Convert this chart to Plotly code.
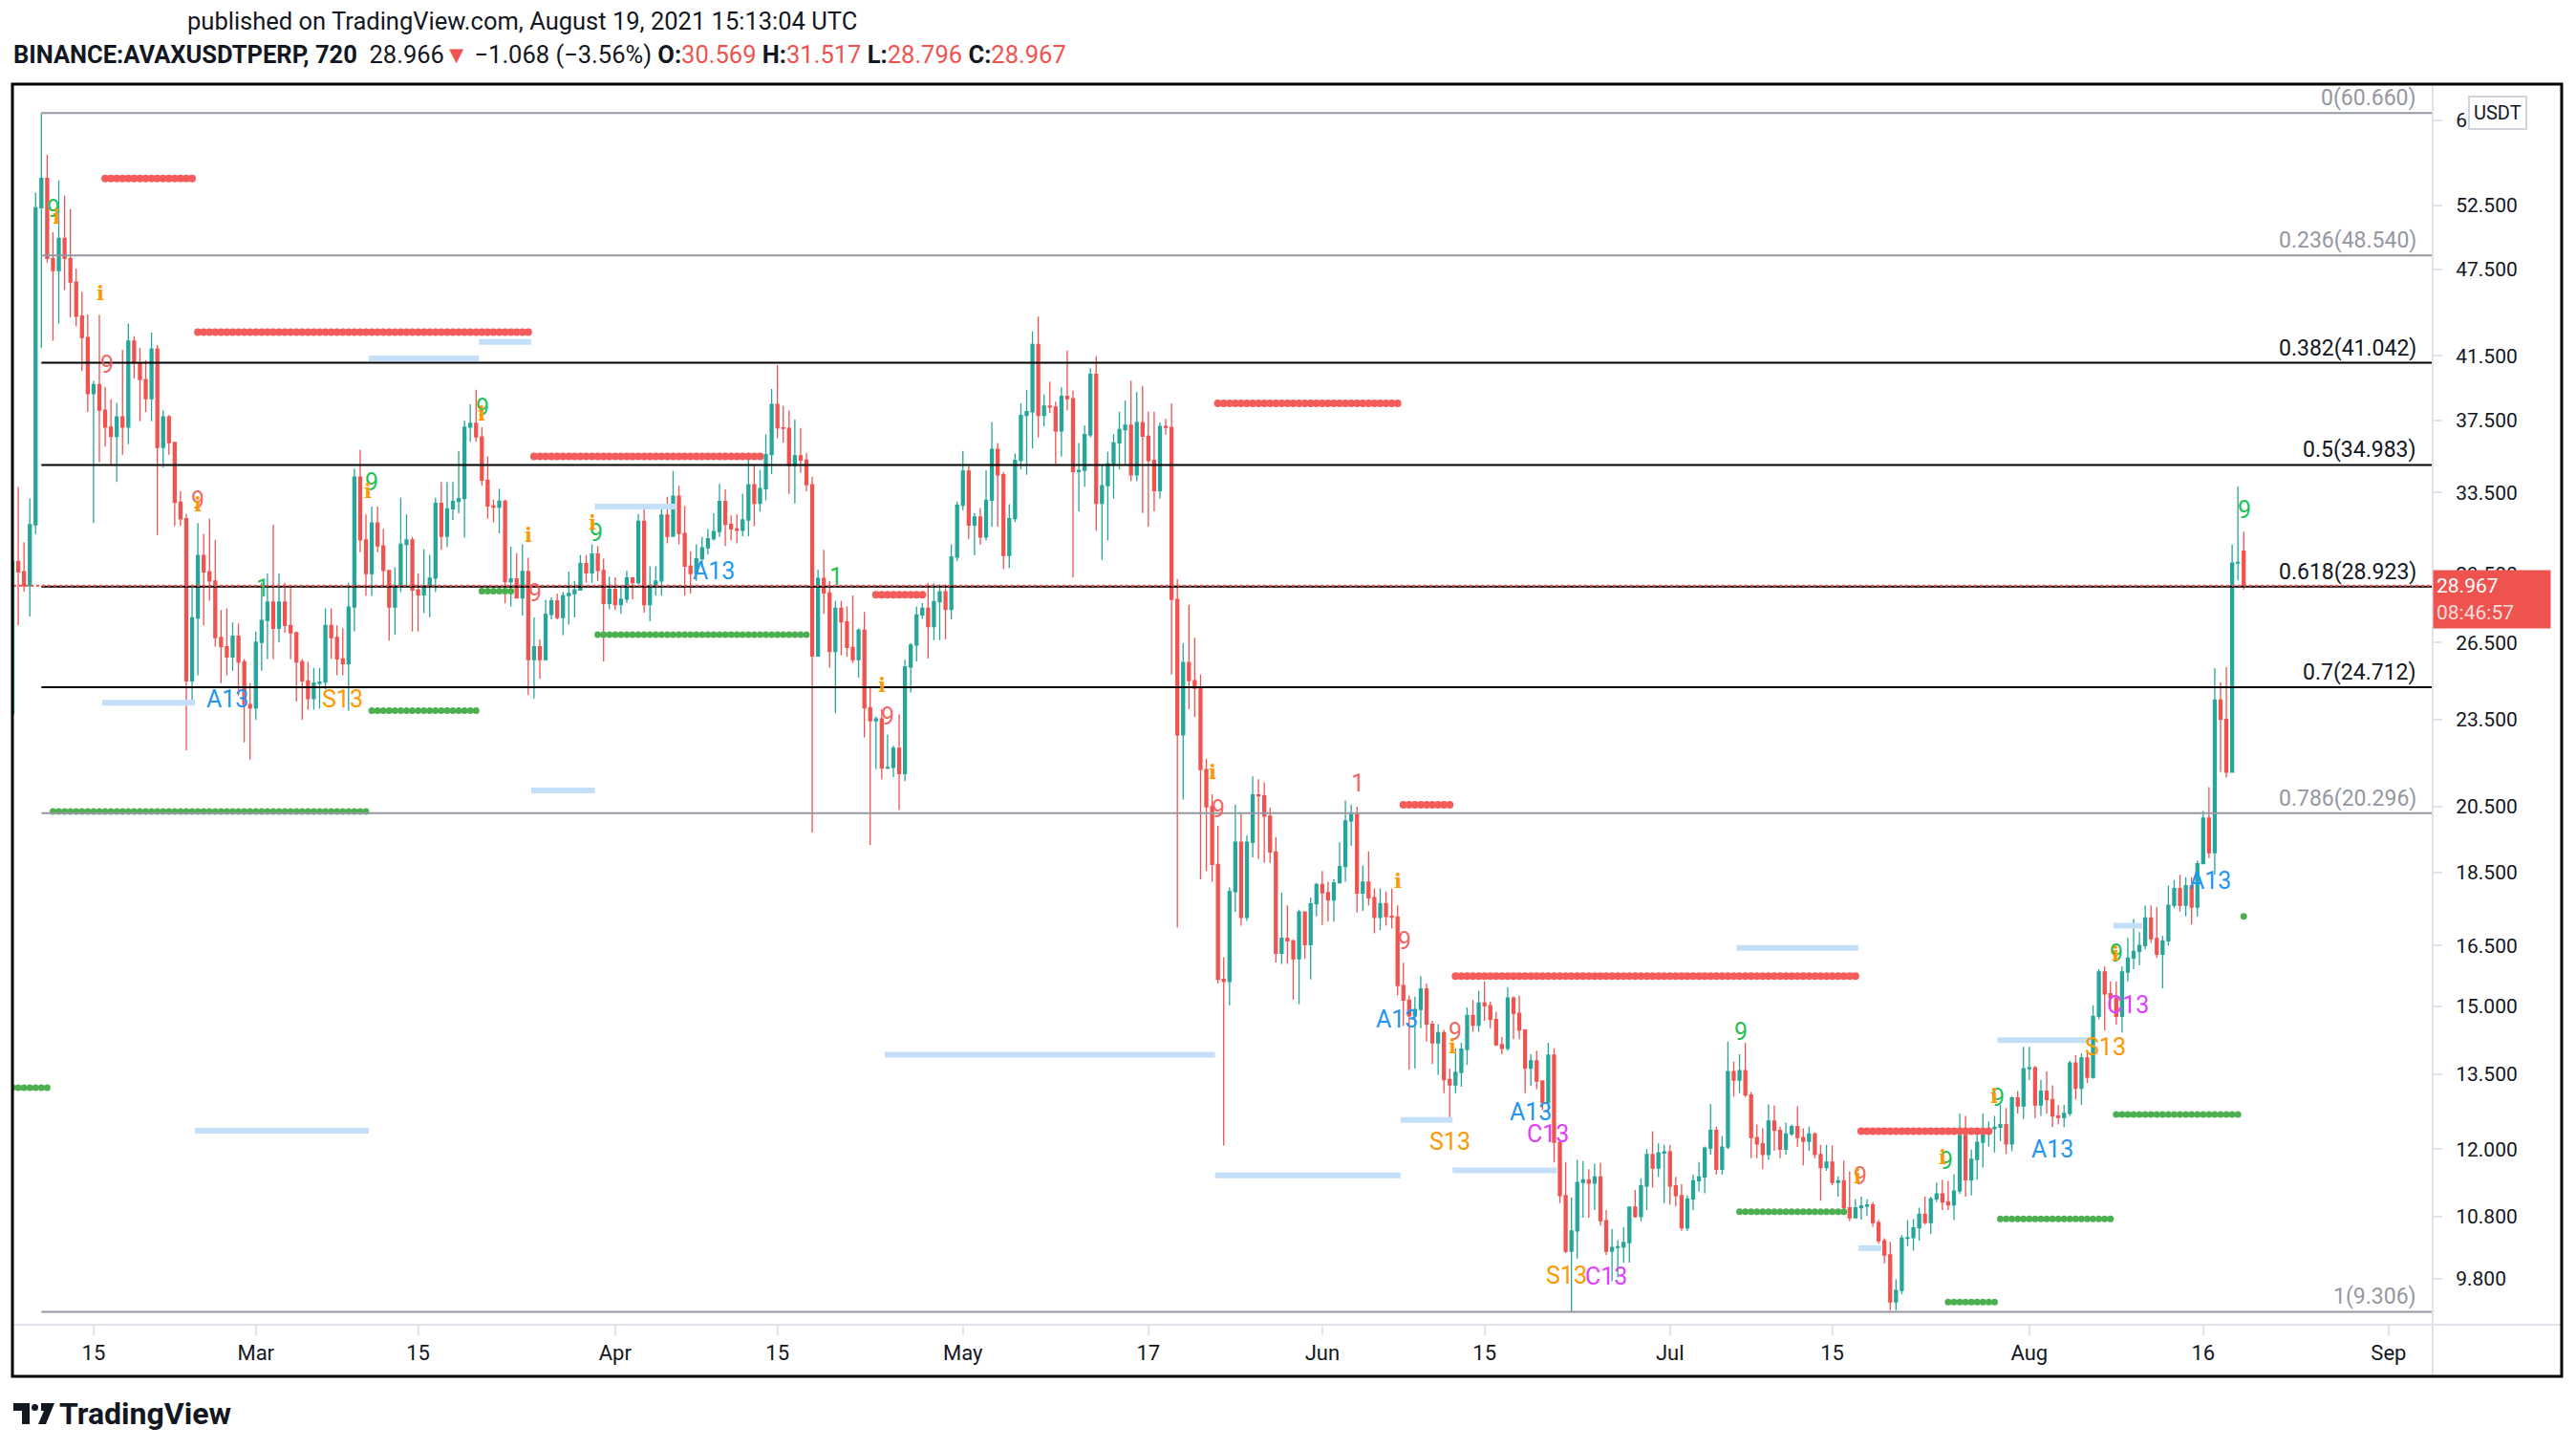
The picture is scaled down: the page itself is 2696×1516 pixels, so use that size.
import math
import pandas as pd
import plotly.graph_objects as go

# ---------------- DATA ----------------
SYMBOL_TEXT = "BINANCE:AVAXUSDTPERP, 720"
PUBLISHED = "published on TradingView.com, August 19, 2021 15:13:04 UTC"
START = "2021-02-08 00:00"          # first 12h candle
FIRST_OPEN = 23.71
LAST_OPEN = 30.569
LAST_PRICE = 28.967
COUNTDOWN = "08:46:57"

closes = [
    30.08, 29.6, 28.96, 31.86, 52.30, 54.75, 48.32, 47.41, 49.86, 48.32,
    46.56, 44.15, 42.70, 39.11, 39.67, 38.11, 37.11, 36.58, 37.71, 37.11,
    42.46, 41.02, 39.98, 38.81, 41.94, 35.96, 37.71, 36.23, 33.00, 32.16,
    24.96, 27.54, 30.37, 29.60, 29.18, 26.71, 26.33, 25.91, 26.76, 25.71,
    24.05, 23.93, 26.51, 27.43, 28.23, 27.10, 28.23, 27.22, 26.91, 25.71,
    24.96, 24.28, 24.87, 24.91, 27.22, 26.71, 25.83, 25.64, 28.01, 34.32,
    31.11, 29.52, 31.95, 30.82, 29.66, 28.01, 28.96, 30.90, 31.11, 28.77,
    28.55, 28.96, 29.31, 32.94, 31.29, 32.66, 33.04, 33.19, 37.11, 37.33,
    36.55, 34.16, 32.81, 32.75, 33.06, 29.15, 29.27, 28.41, 29.61, 25.80,
    26.33, 25.80, 27.69, 28.28, 27.56, 28.52, 28.61, 28.77, 29.98, 29.55,
    30.43, 29.66, 28.17, 28.80, 28.12, 28.36, 29.32, 29.10, 32.03, 28.12,
    28.98, 29.18, 32.34, 31.29, 33.32, 31.43, 29.86, 29.52, 30.21, 30.73,
    31.17, 31.52, 33.04, 31.88, 31.65, 31.58, 32.10, 33.92, 32.94, 33.71,
    35.55, 38.46, 37.07, 37.05, 34.95, 35.49, 35.25, 33.92, 25.95, 29.30,
    28.64, 26.13, 27.96, 27.37, 26.30, 25.80, 27.01, 23.93, 23.45, 23.52,
    21.78, 21.80, 22.46, 21.59, 25.51, 26.40, 27.67, 27.96, 27.17, 28.25,
    28.69, 27.91, 30.29, 32.85, 34.65, 31.84, 32.25, 31.25, 33.10, 35.84,
    34.45, 30.37, 32.17, 35.23, 37.80, 38.02, 42.23, 37.80, 38.35, 38.30,
    36.90, 38.94, 38.80, 34.63, 34.69, 36.68, 40.31, 32.95, 33.87, 35.05,
    36.21, 36.97, 37.22, 34.45, 37.38, 36.59, 35.23, 33.61, 37.16, 37.10,
    28.35, 22.94, 25.69, 24.97, 24.67, 21.73, 20.50, 18.73, 15.65, 15.60,
    17.95, 19.39, 17.24, 19.39, 20.88, 20.85, 20.20, 19.10, 16.30, 16.69,
    16.62, 16.16, 17.39, 16.52, 17.61, 18.15, 17.92, 17.72, 18.20, 18.67,
    20.05, 20.26, 17.91, 18.22, 17.78, 17.24, 17.62, 17.27, 17.25, 15.50,
    15.15, 14.78, 14.93, 15.42, 14.59, 14.17, 14.40, 13.38, 13.27, 13.53,
    14.03, 14.79, 14.57, 15.08, 15.02, 14.70, 14.13, 14.05, 15.20, 14.84,
    14.46, 13.62, 13.78, 13.35, 12.91, 13.90, 12.13, 11.16, 10.23, 10.56,
    11.39, 11.44, 11.38, 11.49, 10.73, 10.23, 10.29, 10.30, 10.37, 10.96,
    10.80, 11.33, 11.90, 11.65, 11.93, 11.95, 11.33, 11.16, 10.61, 11.10,
    11.42, 11.49, 12.02, 12.36, 11.63, 12.04, 13.55, 13.37, 13.57, 13.06,
    12.22, 12.10, 11.90, 12.54, 12.36, 12.00, 12.29, 12.43, 12.22, 12.15,
    12.29, 11.90, 11.66, 11.76, 11.39, 11.42, 10.95, 10.78, 10.95, 10.98,
    11.00, 10.70, 10.40, 10.17, 9.45, 9.62, 10.44, 10.45, 10.61, 10.84,
    10.70, 11.10, 11.19, 11.05, 11.00, 11.24, 12.26, 11.44, 11.81, 12.13,
    12.37, 12.39, 12.42, 12.47, 12.10, 13.00, 12.84, 13.61, 13.63, 12.86,
    13.14, 12.97, 12.64, 12.61, 12.69, 13.73, 13.20, 13.84, 13.43, 14.77,
    15.83, 15.30, 15.20, 14.77, 15.83, 16.18, 16.35, 16.50, 17.23, 16.68,
    16.28, 16.62, 17.57, 18.04, 17.57, 18.12, 17.52, 18.75, 20.14, 19.08,
    24.22, 23.50, 21.64, 30.01, 30.034, 28.967,
]

highs = [
    31.56, 33.8, 31.0, 33.2, 53.56, 60.66, 56.83, 50.34, 54.59, 53.30,
    52.20, 47.55, 45.86, 44.27, 39.9, 44.23, 39.52, 38.77, 38.55, 41.89,
    43.64, 42.78, 42.01, 41.22, 43.02, 42.2, 38.11, 37.82, 36.23, 33.58,
    32.4, 28.88, 31.95, 31.41, 32.16, 31.11, 27.88, 27.96, 27.35, 27.30,
    25.83, 24.87, 26.96, 29.10, 29.52, 31.86, 29.52, 29.10, 28.96, 26.96,
    25.83, 25.71, 25.46, 25.46, 27.96, 27.96, 27.22, 27.10, 29.10, 34.78,
    35.82, 32.38, 32.78, 32.78, 31.65, 29.66, 29.81, 33.23, 32.38, 31.26,
    29.52, 30.67, 30.40, 33.23, 34.06, 34.06, 34.06, 35.76, 37.50, 38.46,
    39.35, 37.11, 35.45, 33.14, 33.71, 33.14, 30.78, 30.47, 30.90, 30.26,
    27.56, 26.63, 28.33, 28.44, 28.61, 28.69, 29.61, 29.18, 30.38, 30.38,
    30.90, 30.82, 30.21, 29.38, 29.35, 28.98, 29.66, 29.35, 32.40, 32.72,
    29.86, 29.86, 32.77, 33.29, 34.65, 33.86, 32.81, 30.55, 30.90, 31.26,
    31.65, 32.44, 33.96, 33.67, 32.34, 32.38, 33.44, 35.66, 34.95, 34.71,
    36.69, 39.40, 40.90, 38.37, 38.09, 37.55, 37.07, 35.66, 34.35, 29.70,
    30.64, 29.18, 28.28, 28.28, 28.04, 28.52, 27.10, 27.80, 24.72, 23.60,
    23.89, 22.95, 22.56, 23.69, 25.80, 26.48, 28.04, 28.20, 29.10, 29.07,
    29.02, 29.02, 30.90, 33.04, 35.76, 34.90, 32.45, 32.70, 34.69, 37.41,
    36.21, 34.60, 32.90, 35.60, 38.52, 39.33, 43.10, 44.11, 39.06, 39.85,
    38.62, 39.49, 41.83, 39.29, 36.21, 37.22, 40.70, 41.47, 35.00, 35.72,
    36.71, 38.02, 38.69, 39.90, 39.20, 39.59, 38.02, 38.02, 37.38, 37.60,
    38.52, 29.27, 26.48, 28.11, 26.70, 25.21, 22.10, 20.90, 19.90, 16.20,
    18.07, 20.57, 20.29, 19.60, 21.50, 21.40, 21.30, 20.47, 19.55, 17.92,
    17.57, 16.66, 17.45, 17.39, 17.79, 18.20, 18.54, 18.23, 18.30, 19.39,
    20.70, 20.57, 20.50, 18.70, 19.12, 18.04, 18.04, 17.95, 18.04, 17.57,
    16.06, 15.26, 15.23, 15.73, 15.55, 14.67, 14.59, 14.46, 13.61, 14.05,
    14.17, 14.98, 15.15, 15.37, 15.60, 15.12, 14.88, 14.30, 15.46, 15.24,
    15.26, 14.46, 13.92, 14.00, 13.35, 14.17, 14.05, 12.18, 11.76, 11.13,
    11.80, 11.78, 11.63, 11.73, 11.75, 10.91, 10.59, 10.41, 10.62, 10.97,
    11.26, 11.46, 12.00, 12.34, 12.11, 12.08, 12.08, 11.49, 11.36, 11.16,
    11.53, 11.76, 12.05, 12.88, 12.43, 12.25, 14.20, 13.76, 13.92, 14.17,
    13.12, 12.47, 12.40, 12.87, 12.85, 12.43, 12.51, 12.47, 12.83, 12.40,
    12.43, 12.32, 12.08, 12.08, 12.07, 11.50, 11.79, 11.59, 11.10, 11.14,
    11.10, 11.05, 10.74, 10.44, 10.38, 9.79, 10.49, 10.74, 10.76, 10.95,
    11.14, 11.14, 11.39, 11.44, 11.42, 11.54, 12.69, 12.64, 11.99, 12.37,
    12.69, 12.53, 12.64, 12.86, 12.80, 13.03, 13.14, 14.08, 14.08, 13.67,
    13.37, 13.55, 13.26, 12.86, 12.86, 13.78, 13.90, 13.94, 14.00, 15.03,
    15.90, 15.97, 15.60, 15.60, 15.97, 16.70, 17.20, 16.85, 17.57, 17.57,
    17.52, 16.75, 18.12, 18.27, 18.43, 18.36, 18.36, 18.84, 20.36, 21.14,
    25.45, 24.91, 25.50, 30.89, 33.83, 31.517,
]

lows = [
    23.48, 27.22, 28.7, 27.6, 31.4, 42.0, 48.0, 42.49, 43.64, 45.98,
    44.06, 43.44, 40.52, 38.0, 31.95, 35.14, 36.0, 34.94, 34.06, 35.55,
    36.13, 40.05, 37.46, 38.0, 37.46, 31.35, 34.84, 35.55, 31.80, 31.80,
    22.39, 24.16, 25.18, 27.22, 28.28, 26.33, 24.87, 25.18, 25.35, 24.39,
    22.67, 22.07, 23.48, 25.35, 25.83, 25.83, 26.51, 26.91, 25.83, 24.16,
    23.48, 23.86, 23.86, 23.9, 24.63, 25.83, 25.18, 25.18, 23.82, 26.96,
    30.52, 28.50, 28.50, 30.52, 28.91, 26.58, 26.83, 28.69, 28.96, 26.96,
    26.96, 27.75, 27.56, 28.69, 30.64, 30.76, 32.10, 32.44, 31.22, 36.27,
    36.27, 33.86, 32.16, 31.98, 31.43, 28.17, 28.04, 28.39, 27.64, 24.41,
    24.27, 25.04, 25.77, 27.48, 27.48, 26.81, 27.25, 27.56, 28.77, 29.10,
    29.10, 29.18, 25.73, 27.91, 27.88, 27.72, 28.20, 28.36, 29.02, 27.77,
    27.40, 28.52, 28.52, 30.94, 31.26, 30.90, 28.52, 28.61, 29.18, 29.86,
    30.41, 31.08, 31.26, 30.82, 31.08, 30.94, 31.29, 31.29, 31.79, 32.53,
    33.10, 34.49, 36.48, 36.23, 33.44, 32.94, 34.55, 33.57, 19.69, 25.91,
    27.72, 25.48, 23.73, 25.98, 25.91, 25.66, 25.08, 22.85, 19.31, 21.74,
    21.39, 21.74, 21.47, 20.39, 21.34, 24.51, 25.73, 27.50, 25.85, 26.60,
    26.60, 26.63, 27.48, 30.10, 32.60, 31.17, 30.37, 30.89, 31.08, 31.76,
    31.76, 29.73, 29.78, 32.00, 34.75, 34.45, 35.90, 36.53, 37.16, 37.95,
    35.05, 35.44, 38.10, 29.35, 32.53, 33.81, 36.53, 31.57, 30.16, 31.08,
    33.18, 34.75, 35.00, 34.10, 34.10, 32.45, 31.76, 32.53, 33.18, 36.68,
    25.21, 16.97, 20.73, 23.88, 23.58, 18.30, 18.54, 18.23, 15.55, 12.07,
    15.03, 17.39, 17.02, 17.15, 18.94, 18.90, 18.78, 18.78, 16.07, 16.03,
    16.03, 15.16, 15.05, 16.16, 15.65, 17.27, 17.04, 17.13, 17.13, 18.38,
    18.23, 19.28, 17.37, 17.42, 17.57, 16.82, 16.90, 17.02, 16.95, 15.26,
    14.55, 13.59, 13.61, 14.50, 14.20, 13.71, 13.48, 13.10, 12.61, 13.10,
    13.23, 13.69, 14.42, 14.42, 14.67, 14.50, 14.10, 13.92, 14.00, 14.25,
    14.25, 13.10, 13.25, 13.18, 12.76, 12.72, 11.76, 11.03, 10.20, 9.306,
    10.11, 10.78, 10.78, 10.91, 10.65, 10.17, 9.76, 9.82, 10.05, 10.05,
    10.78, 10.72, 10.91, 11.30, 11.49, 11.03, 11.00, 10.97, 10.56, 10.56,
    10.91, 11.23, 11.20, 11.90, 11.53, 11.53, 12.00, 13.03, 13.10, 13.02,
    11.83, 11.83, 11.63, 11.80, 11.97, 11.83, 11.90, 12.25, 12.04, 11.70,
    11.97, 11.83, 11.07, 11.60, 11.34, 11.14, 10.91, 10.72, 10.78, 10.75,
    10.81, 10.63, 10.35, 10.04, 9.33, 9.33, 9.57, 10.31, 10.24, 10.40,
    10.67, 10.51, 11.05, 10.91, 10.91, 10.74, 11.19, 11.14, 11.16, 11.44,
    11.66, 12.05, 11.94, 12.15, 11.91, 11.96, 12.69, 12.58, 13.37, 12.60,
    12.64, 12.69, 12.42, 12.47, 12.42, 12.64, 12.97, 12.86, 13.31, 13.40,
    14.70, 14.45, 14.90, 14.58, 14.40, 15.60, 15.90, 16.00, 16.40, 16.57,
    16.18, 15.43, 16.50, 17.50, 17.40, 17.27, 17.05, 17.27, 18.75, 18.92,
    18.43, 21.64, 21.46, 21.64, 29.20, 28.796,
]

# Fibonacci retracement (ratio label, price)
fib_ratios = ["0", "0.236", "0.382", "0.5", "0.618", "0.7", "0.786", "1"]
fib_prices = [60.660, 48.540, 41.042, 34.983, 28.923, 24.712, 20.296, 9.306]
fib_dark = [False, False, True, True, True, True, False, False]
FIB_FROM = "2021-02-10 12:00"

# TD setup support / resistance dotted levels: (first bar, last bar, price)
red_levels = [
    ("2021-02-16 00:00", "2021-02-23 12:00", 54.75),
    ("2021-02-24 00:00", "2021-03-24 12:00", 43.06),
    ("2021-03-25 00:00", "2021-04-13 12:00", 35.45),
    ("2021-04-23 12:00", "2021-04-27 12:00", 28.56),
    ("2021-05-23 00:00", "2021-06-07 12:00", 38.52),
    ("2021-06-08 00:00", "2021-06-12 00:00", 20.56),
    ("2021-06-12 12:00", "2021-07-17 00:00", 15.73),
    ("2021-07-17 12:00", "2021-07-28 12:00", 12.34),
]
green_levels = [
    ("2021-02-08 00:00", "2021-02-11 00:00", 13.21),
    ("2021-02-11 12:00", "2021-03-10 12:00", 20.35),
    ("2021-03-11 00:00", "2021-03-20 00:00", 23.82),
    ("2021-03-20 12:00", "2021-03-23 00:00", 28.72),
    ("2021-03-30 12:00", "2021-04-17 12:00", 26.83),
    ("2021-07-07 00:00", "2021-07-16 00:00", 10.88),
    ("2021-07-25 00:00", "2021-07-29 00:00", 9.45),
    ("2021-07-29 12:00", "2021-08-08 00:00", 10.76),
    ("2021-08-08 12:00", "2021-08-19 00:00", 12.67),
    ("2021-08-19 12:00", "2021-08-19 12:00", 17.27),
]
# light blue risk lines: (from, to, price)
blue_levels = [
    ("2021-02-15 18:00", "2021-02-23 18:00", 24.12),
    ("2021-02-23 18:00", "2021-03-10 18:00", 12.35),
    ("2021-03-10 18:00", "2021-03-20 06:00", 41.33),
    ("2021-03-20 06:00", "2021-03-24 18:00", 42.40),
    ("2021-03-24 18:00", "2021-03-30 06:00", 21.03),
    ("2021-03-30 06:00", "2021-04-06 06:00", 32.78),
    ("2021-04-24 06:00", "2021-05-22 18:00", 13.91),
    ("2021-05-22 18:00", "2021-06-07 18:00", 11.52),
    ("2021-06-07 18:00", "2021-06-12 06:00", 12.56),
    ("2021-06-12 06:00", "2021-06-21 06:00", 11.61),
    ("2021-07-06 18:00", "2021-07-17 06:00", 16.44),
    ("2021-07-17 06:00", "2021-07-19 06:00", 10.28),
    ("2021-07-29 06:00", "2021-08-06 06:00", 14.23),
    ("2021-08-08 06:00", "2021-08-10 18:00", 17.02),
]

# TD sequential labels: (text, time, price, kind)
td_labels = [
    ("9", "2021-02-11 14:00", 52.2, "g"), ("i", "2021-02-11 18:00", 51.6, "o"),
    ("i", "2021-02-15 14:00", 45.8, "o"),
    ("9", "2021-02-16 04:00", 40.9, "r"),
    ("9", "2021-02-24 00:00", 33.1, "r"), ("i", "2021-02-24 00:00", 32.9, "o"),
    ("A13", "2021-02-26 13:00", 24.27, "b"),
    ("1", "2021-03-01 14:00", 28.83, "g"),
    ("S13", "2021-03-08 12:00", 24.27, "o"),
    ("9", "2021-03-11 00:00", 34.03, "g"), ("i", "2021-03-10 16:00", 33.6, "o"),
    ("9", "2021-03-20 13:00", 38.24, "g"), ("i", "2021-03-20 12:00", 37.9, "o"),
    ("i", "2021-03-24 13:00", 31.35, "o"),
    ("9", "2021-03-25 02:00", 28.62, "r"),
    ("9", "2021-03-30 08:00", 31.44, "g"), ("i", "2021-03-30 00:00", 32.0, "o"),
    ("A13", "2021-04-09 13:00", 29.62, "b"),
    ("1", "2021-04-20 01:00", 29.36, "g"),
    ("i", "2021-04-24 00:00", 24.79, "o"),
    ("9", "2021-04-24 13:00", 23.61, "r"),
    ("i", "2021-05-22 13:00", 21.64, "o"),
    ("9", "2021-05-23 01:00", 20.41, "r"),
    ("1", "2021-06-04 01:00", 21.28, "r"),
    ("i", "2021-06-07 12:00", 18.25, "o"),
    ("9", "2021-06-08 02:00", 16.63, "r"),
    ("A13", "2021-06-07 11:00", 14.69, "b"),
    ("9", "2021-06-12 12:00", 14.41, "r"), ("i", "2021-06-12 06:00", 14.1, "o"),
    ("S13", "2021-06-12 00:00", 12.15, "o"),
    ("A13", "2021-06-19 00:00", 12.71, "b"),
    ("C13", "2021-06-20 12:00", 12.28, "p"),
    ("S13", "2021-06-22 01:00", 9.85, "o"),
    ("C13", "2021-06-25 11:00", 9.84, "p"),
    ("9", "2021-07-07 02:00", 14.42, "g"),
    ("9", "2021-07-17 10:00", 11.51, "r"), ("i", "2021-07-17 04:00", 11.51, "o"),
    ("9", "2021-07-24 20:00", 11.79, "g"), ("i", "2021-07-24 12:00", 11.85, "o"),
    ("9", "2021-07-29 08:00", 13.00, "g"), ("i", "2021-07-29 00:00", 13.05, "o"),
    ("A13", "2021-08-03 00:00", 12.0, "b"),
    ("S13", "2021-08-07 13:00", 14.07, "o"),
    ("9", "2021-08-08 13:00", 16.29, "g"), ("i", "2021-08-08 10:00", 16.29, "o"),
    ("C13", "2021-08-09 12:00", 15.03, "p"),
    ("A13", "2021-08-16 14:00", 18.25, "b"),
    ("9", "2021-08-19 14:00", 32.59, "g"),
]

price_ticks = [9.8, 10.8, 12.0, 13.5, 15.0, 16.5, 18.5, 20.5, 23.5, 26.5,
               29.5, 33.5, 37.5, 41.5, 47.5, 52.5, 60.0]
time_ticks = ["2021-02-15", "2021-03-01", "2021-03-15", "2021-04-01", "2021-04-15",
              "2021-05-01", "2021-05-17", "2021-06-01", "2021-06-15", "2021-07-01",
              "2021-07-15", "2021-08-01", "2021-08-16", "2021-09-01"]
time_labels = ["15", "Mar", "15", "Apr", "15", "May", "17", "Jun", "15", "Jul",
               "15", "Aug", "16", "Sep"]

# ---------------- LAYOUT GEOMETRY ----------------
W, H = 2696, 1516
PL, PR, PT, PB = 14, 2546, 88, 1386
X_RANGE = ["2021-02-08 01:58", "2021-09-04 19:12"]
Y_RANGE = [math.log10(9.119), math.log10(63.46)]


def px(x):
    return (x - PL) / (PR - PL)


def py(y):
    return (PB - y) / (PB - PT)


n = min(len(closes), len(highs), len(lows))
closes, highs, lows = closes[:n], highs[:n], lows[:n]
dates = pd.date_range(START, periods=n, freq="12h")
opens = [FIRST_OPEN] + closes[:-1]
opens[-1] = LAST_OPEN
highs = [max(h, o, c) for h, o, c in zip(highs, opens, closes)]
lows = [min(l, o, c) for l, o, c in zip(lows, opens, closes)]

fig = go.Figure()

# light-blue lines (behind candles)
bx, by = [], []
for a, b, p in blue_levels:
    bx += [a, b, None]
    by += [p, p, None]
fig.add_trace(go.Scatter(x=bx, y=by, mode="lines", line=dict(color="#c3dffa", width=6),
                         hoverinfo="skip", showlegend=False))

fig.add_trace(go.Candlestick(
    x=dates, open=opens, high=highs, low=lows, close=closes,
    increasing=dict(line=dict(color="#26a69a", width=1.3), fillcolor="#26a69a"),
    decreasing=dict(line=dict(color="#ef5350", width=1.3), fillcolor="#ef5350"),
    whiskerwidth=0, hoverinfo="skip", showlegend=False))


def beads(levels):
    xs, ys = [], []
    for a, b, p in levels:
        ta, tb = pd.Timestamp(a), pd.Timestamp(b)
        for d in dates:
            if ta <= d <= tb:
                xs.append(d)
                ys.append(p)
    return xs, ys


rx, ry = beads(red_levels)
fig.add_trace(go.Scatter(x=rx, y=ry, mode="markers",
                         marker=dict(color="#f45b5b", size=8, line=dict(width=0)),
                         hoverinfo="skip", showlegend=False))
gx, gy = beads(green_levels)
fig.add_trace(go.Scatter(x=gx, y=gy, mode="markers",
                         marker=dict(color="#4caf50", size=7, line=dict(width=0)),
                         hoverinfo="skip", showlegend=False))

# Fibonacci lines
for r, p, dark in zip(fib_ratios, fib_prices, fib_dark):
    fig.add_trace(go.Scatter(x=[FIB_FROM, X_RANGE[1]], y=[p, p], mode="lines",
                             line=dict(color="#000000" if dark else "#9598a1", width=2),
                             hoverinfo="skip", showlegend=False))

# last price dotted line
fig.add_trace(go.Scatter(x=[X_RANGE[0], X_RANGE[1]], y=[LAST_PRICE, LAST_PRICE], mode="lines",
                         line=dict(color="#ef5350", width=2, dash="dot"),
                         hoverinfo="skip", showlegend=False))

annotations = []
for r, p, dark in zip(fib_ratios, fib_prices, fib_dark):
    annotations.append(dict(
        xref="paper", yref="y", x=px(2531), y=math.log10(p), xanchor="right", yanchor="bottom",
        text=f"{r}({p:.3f})", showarrow=False, yshift=0,
        font=dict(family="Roboto", size=23, color="#131722" if dark else "#9598a1")))

kind_color = {"g": "#1fc157", "r": "rgba(239,83,80,0.9)", "o": "#ff9800",
              "b": "#2196f3", "p": "#e040fb"}
for t, d, p, k in td_labels:
    if t == "i":
        font = dict(family="DejaVu Serif", size=21, color=kind_color[k])
        text = "<b>i</b>"
    else:
        font = dict(family="Roboto", size=25, color=kind_color[k])
        text = t
    annotations.append(dict(x=d, y=math.log10(p), xref="x", yref="y", text=text,
                            showarrow=False, xanchor="center", yanchor="middle", font=font))

# header
annotations.append(dict(xref="paper", yref="paper", x=px(194), y=py(22), xanchor="left",
                        yanchor="middle", showarrow=False, text=PUBLISHED,
                        font=dict(family="Roboto", size=25.5, color="#131722")))
red = "#ef5350"
line2 = (f"<b>{SYMBOL_TEXT}</b>  28.966<span style='color:{red}'>▼</span> −1.068 (−3.56%) "
         f"<b>O:</b><span style='color:{red}'>30.569</span> "
         f"<b>H:</b><span style='color:{red}'>31.517</span> "
         f"<b>L:</b><span style='color:{red}'>28.796</span> "
         f"<b>C:</b><span style='color:{red}'>28.967</span>")
annotations.append(dict(xref="paper", yref="paper", x=px(12), y=py(57), xanchor="left",
                        yanchor="middle", showarrow=False, text=line2,
                        font=dict(family="Roboto", size=25.5, color="#131722")))
# footer brand
annotations.append(dict(xref="paper", yref="paper", x=px(60), y=py(1479), xanchor="left",
                        yanchor="middle", showarrow=False, text="<b>TradingView</b>",
                        font=dict(family="Roboto", size=32, color="#131722")))
# price box
annotations.append(dict(xref="paper", yref="y", x=1.0, y=math.log10(LAST_PRICE), xanchor="left",
                        yanchor="middle", yshift=-14, showarrow=False, align="left",
                        text=f"{LAST_PRICE:.3f}<br><span style='color:rgba(255,255,255,0.8)'>{COUNTDOWN}</span>",
                        bgcolor="#ef5350", width=116, height=54, borderpad=3,
                        font=dict(family="Roboto", size=21, color="white")))
# currency badge
annotations.append(dict(xref="paper", yref="paper", x=px(2614), y=py(118), xanchor="center",
                        yanchor="middle", showarrow=False, text="USDT", bgcolor="white",
                        bordercolor="#d1d4dc", borderwidth=2, borderpad=4,
                        font=dict(family="Roboto", size=20, color="#131722")))


def path(points):
    s = "M " + " L ".join(f"{px(x)},{py(y)}" for x, y in points) + " Z"
    return s


shapes = [
    dict(type="line", xref="paper", yref="paper", x0=px(PL), x1=px(2681), y0=0, y1=0,
         line=dict(color="#e0e3eb", width=2)),
    dict(type="line", xref="paper", yref="paper", x0=1, x1=1, y0=py(1440), y1=py(PT),
         line=dict(color="#e0e3eb", width=2)),
    dict(type="rect", xref="paper", yref="paper", x0=px(13), x1=px(2681), y0=py(1440), y1=py(88),
         line=dict(color="#000000", width=3)),
    # TradingView logo
    dict(type="path", xref="paper", yref="paper", fillcolor="#131722", line=dict(width=0),
         path=path([(14, 1468), (31, 1468), (31, 1490), (23, 1490), (23, 1476), (14, 1476)])),
    dict(type="circle", xref="paper", yref="paper", fillcolor="#131722", line=dict(width=0),
         x0=px(33), x1=px(40), y0=py(1476), y1=py(1469)),
    dict(type="path", xref="paper", yref="paper", fillcolor="#131722", line=dict(width=0),
         path=path([(43, 1468), (57, 1468), (48, 1490), (40, 1490), (46, 1476), (43, 1476)])),
]

fig.update_layout(
    width=W, height=H, margin=dict(l=PL, r=W - PR, t=PT, b=H - PB),
    paper_bgcolor="white", plot_bgcolor="white", showlegend=False, hovermode=False,
    font=dict(family="Roboto", color="#131722"),
    xaxis=dict(type="date", range=X_RANGE, rangeslider=dict(visible=False), showgrid=False,
               zeroline=False, showline=False, tickmode="array", tickvals=time_ticks,
               ticktext=time_labels, ticks="outside", ticklen=10, tickwidth=1.5,
               tickcolor="#e0e3eb", tickfont=dict(family="Roboto", size=22, color="#131722")),
    yaxis=dict(type="log", side="right", range=Y_RANGE, showgrid=False, zeroline=False,
               showline=False, tickmode="array", tickvals=price_ticks,
               ticktext=[f"{v:.3f}" for v in price_ticks], ticks="outside", ticklen=9,
               tickwidth=1.5, tickcolor="#e0e3eb", ticklabelstandoff=10,
               tickfont=dict(family="Roboto", size=21, color="#131722")),
    annotations=annotations, shapes=shapes,
)

fig.write_html("out.html")
